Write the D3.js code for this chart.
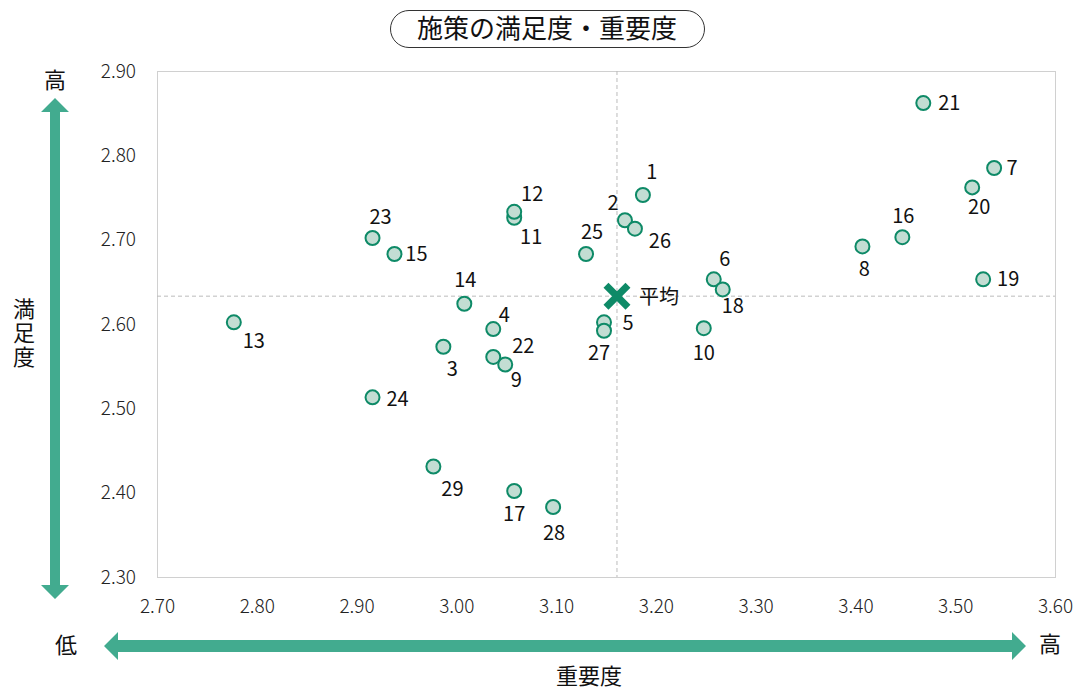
<!DOCTYPE html>
<html>
<head>
<meta charset="utf-8">
<script src="https://cdn.jsdelivr.net/npm/d3@7"></script>
<style>
  body { margin: 0; background: #fff; }
  text { font-family: "Noto Sans CJK JP", "Noto Sans", sans-serif; }
</style>
</head>
<body>
<div id="chart"></div>
<script>
// Data
var ids = [1, 2, 3, 4, 5, 6, 7, 8, 9, 10, 11, 12, 13, 14, 15, 16, 17, 18, 19, 20, 21, 22, 23, 24, 25, 26, 27, 28, 29];
var importance = [3.187, 3.169, 2.987, 3.037, 3.148, 3.258, 3.539, 3.407, 3.049, 3.248,
                  3.058, 3.058, 2.777, 3.008, 2.938, 3.447, 3.058, 3.267, 3.528, 3.517,
                  3.468, 3.037, 2.916, 2.916, 3.130, 3.179, 3.148, 3.097, 2.977];
var satisfaction = [2.753, 2.723, 2.573, 2.594, 2.602, 2.653, 2.785, 2.692, 2.552, 2.595,
                    2.726, 2.733, 2.602, 2.624, 2.683, 2.703, 2.402, 2.641, 2.653, 2.762,
                    2.862, 2.561, 2.702, 2.513, 2.683, 2.713, 2.592, 2.383, 2.431];
var avgImportance = 3.161;
var avgSatisfaction = 2.633;
var xTicks = [2.70, 2.80, 2.90, 3.00, 3.10, 3.20, 3.30, 3.40, 3.50, 3.60];
var yTicks = [2.30, 2.40, 2.50, 2.60, 2.70, 2.80, 2.90];

// label placement around each point (pixels)
var labelOffset = {
  1: [9, -23], 2: [-12, -17], 3: [9, 22], 4: [11, -14], 5: [24, 1], 6: [11, -20],
  7: [18, 0], 8: [2, 23], 9: [11, 16], 10: [0, 25], 11: [17, 19], 12: [18, -18],
  13: [20, 19], 14: [1, -24], 15: [22, 0], 16: [1, -21], 17: [0, 23], 18: [10, 17],
  19: [25, 0], 20: [7, 20], 21: [26, 0], 22: [30, -11], 23: [8, -21], 24: [25, 2],
  25: [6, -22], 26: [25, 12], 27: [-5, 22], 28: [1, 26], 29: [19, 22]
};

var width = 1078, height = 687;
var plotLeft = 157, plotRight = 1055, plotTop = 71, plotBottom = 577;
var green = "#42ab8f";
var dark = "#0e8a67";

var svg = d3.select("#chart").append("svg")
    .attr("width", width)
    .attr("height", height);

var xScale = d3.scaleLinear().domain([2.70, 3.60]).range([plotLeft, plotRight]);
var yScale = d3.scaleLinear().domain([2.30, 2.90]).range([plotBottom, plotTop]);

// Plot frame
svg.append("rect")
    .attr("x", plotLeft + 0.5)
    .attr("y", plotTop + 0.5)
    .attr("width", plotRight - plotLeft)
    .attr("height", plotBottom - plotTop)
    .attr("fill", "none")
    .attr("stroke", "#d0d0d0")
    .attr("stroke-width", 1);

// Axes (labels only)
var xAxisG = svg.append("g")
    .attr("transform", "translate(0," + plotBottom + ")")
    .call(d3.axisBottom(xScale).tickValues(xTicks).tickFormat(d3.format(".2f")).tickSize(0));
var yAxisG = svg.append("g")
    .attr("transform", "translate(" + (plotLeft - 1) + ",0)")
    .call(d3.axisLeft(yScale).tickValues(yTicks).tickFormat(d3.format(".2f")).tickSize(0).tickPadding(20));
[xAxisG, yAxisG].forEach(function(g) {
  g.select(".domain").remove();
  g.selectAll("text")
      .style("font-family", "'Noto Sans CJK JP', sans-serif")
      .style("font-size", "19px")
      .style("font-weight", "300")
      .attr("fill", "#222");
});
xAxisG.selectAll("text").attr("y", 29).attr("dy", "0.35em");

// Average lines
svg.append("line")
    .attr("x1", xScale(avgImportance)).attr("x2", xScale(avgImportance))
    .attr("y1", plotTop).attr("y2", plotBottom)
    .attr("stroke", "#bbb").attr("stroke-dasharray", "4,3");
svg.append("line")
    .attr("x1", plotLeft).attr("x2", plotRight)
    .attr("y1", yScale(avgSatisfaction)).attr("y2", yScale(avgSatisfaction))
    .attr("stroke", "#bbb").attr("stroke-dasharray", "4,3");

// Points
var pts = ids.map(function(id, i) {
  return { id: id, x: importance[i], y: satisfaction[i] };
});

var pg = svg.append("g").selectAll("g")
    .data(pts)
    .enter()
    .append("g");

pg.append("circle")
    .attr("cx", d => xScale(d.x))
    .attr("cy", d => yScale(d.y))
    .attr("r", 7)
    .attr("fill", "#c3ddd3")
    .attr("stroke", dark)
    .attr("stroke-width", 2);

pg.append("text")
    .attr("x", d => xScale(d.x) + labelOffset[d.id][0])
    .attr("y", d => yScale(d.y) + labelOffset[d.id][1])
    .attr("text-anchor", "middle")
    .attr("dy", "0.35em")
    .style("font-size", "20px")
    .attr("fill", "#111")
    .text(d => d.id);

// Average marker
var ax = xScale(avgImportance), ay = yScale(avgSatisfaction);
svg.append("path")
    .attr("d", "M" + (ax - 11) + "," + (ay - 11) + "L" + (ax + 11) + "," + (ay + 11) +
               "M" + (ax - 11) + "," + (ay + 11) + "L" + (ax + 11) + "," + (ay - 11))
    .attr("stroke", dark)
    .attr("stroke-width", 7);
svg.append("text")
    .attr("x", ax + 22)
    .attr("y", ay + 1)
    .attr("dy", "0.35em")
    .style("font-size", "20px")
    .attr("fill", "#111")
    .text("平均");

// Title
svg.append("rect")
    .attr("x", 390.5).attr("y", 10.5)
    .attr("width", 314).attr("height", 37)
    .attr("rx", 18.5)
    .attr("fill", "#fff")
    .attr("stroke", "#333")
    .attr("stroke-width", 1);
svg.append("text")
    .attr("x", 547).attr("y", 29)
    .attr("text-anchor", "middle")
    .attr("dy", "0.36em")
    .style("font-size", "26px")
    .attr("fill", "#111")
    .text("施策の満足度・重要度");

// Arrows
svg.append("path")
    .attr("d", "M55,98 L69,112 L60,112 L60,585 L69,585 L55,599 L41,585 L50,585 L50,112 L41,112 Z")
    .attr("fill", green);
svg.append("path")
    .attr("d", "M104,646 L118,632 L118,640 L1012,640 L1012,632 L1026,646 L1012,660 L1012,652 L118,652 L118,660 Z")
    .attr("fill", green);

// Arrow labels
svg.append("text").attr("x", 55).attr("y", 80).attr("text-anchor", "middle").attr("dy", "0.36em")
    .style("font-size", "22px").attr("fill", "#111").text("高");
svg.append("text").attr("x", 66).attr("y", 645).attr("text-anchor", "middle").attr("dy", "0.36em")
    .style("font-size", "22px").attr("fill", "#111").text("低");
svg.append("text").attr("x", 1050).attr("y", 644).attr("text-anchor", "middle").attr("dy", "0.36em")
    .style("font-size", "22px").attr("fill", "#111").text("高");

// Axis titles
svg.append("text").attr("x", 589).attr("y", 676).attr("text-anchor", "middle").attr("dy", "0.36em")
    .style("font-size", "22px").attr("fill", "#111").text("重要度");
svg.append("text")
    .attr("x", 24)
    .attr("y", 334)
    .attr("text-anchor", "middle")
    .style("writing-mode", "vertical-rl")
    .style("text-orientation", "upright")
    .style("letter-spacing", "2px")
    .style("font-size", "22px")
    .attr("fill", "#111")
    .text("満足度");
</script>
</body>
</html>
